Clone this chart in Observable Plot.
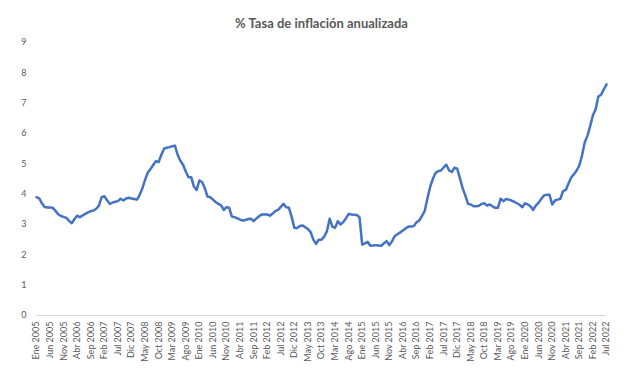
<!DOCTYPE html>
<html><head><meta charset="utf-8">
<script src="https://cdn.jsdelivr.net/npm/d3@7"></script>
<script src="https://cdn.jsdelivr.net/npm/@observablehq/plot@0.6"></script>
<style>body{margin:0;background:#fff}</style>
</head><body><div id="chart"></div>
<script>
const titulo = "% Tasa de inflación anualizada";
const meses = ["Ene","Feb","Mar","Abr","May","Jun","Jul","Ago","Sep","Oct","Nov","Dic"];
const anioInicio = 2005;
const pasoEtiquetas = 5;
const yTicks = [0,1,2,3,4,5,6,7,8,9];

// Monthly annualized inflation (%), Ene 2005 – Jul 2022
const inflacion = [
  // 2005
  3.90,3.86,3.70,3.58,3.56,3.56,3.55,3.45,3.34,3.28,3.25,3.22,
  // 2006
  3.12,3.04,3.18,3.29,3.24,3.30,3.35,3.40,3.44,3.46,3.52,3.62,
  // 2007
  3.90,3.93,3.80,3.68,3.72,3.75,3.77,3.85,3.79,3.86,3.88,3.86,
  // 2008
  3.84,3.82,3.97,4.19,4.47,4.71,4.83,4.96,5.09,5.06,5.30,5.50,
  // 2009
  5.53,5.55,5.58,5.60,5.30,5.10,4.97,4.75,4.56,4.56,4.25,4.14,
  // 2010
  4.45,4.40,4.20,3.92,3.90,3.82,3.74,3.68,3.63,3.48,3.57,3.55,
  // 2011
  3.26,3.24,3.20,3.16,3.13,3.15,3.18,3.19,3.11,3.20,3.27,3.33,
  // 2012
  3.33,3.33,3.29,3.36,3.44,3.48,3.58,3.68,3.57,3.55,3.25,2.89,
  // 2013
  2.88,2.95,2.97,2.91,2.85,2.75,2.50,2.36,2.50,2.50,2.60,2.78,
  // 2014
  3.19,2.93,2.89,3.11,3.00,3.08,3.20,3.35,3.33,3.32,3.31,3.24,
  // 2015
  2.34,2.38,2.43,2.30,2.31,2.32,2.31,2.30,2.38,2.45,2.32,2.45,
  // 2016
  2.62,2.68,2.74,2.80,2.87,2.93,2.93,2.95,3.07,3.13,3.28,3.44,
  // 2017
  3.85,4.23,4.50,4.70,4.76,4.78,4.88,4.97,4.78,4.73,4.87,4.84,
  // 2018
  4.52,4.20,3.95,3.68,3.66,3.60,3.60,3.62,3.68,3.70,3.62,3.66,
  // 2019
  3.60,3.55,3.55,3.85,3.77,3.84,3.82,3.79,3.75,3.70,3.65,3.57,
  // 2020
  3.70,3.66,3.60,3.48,3.63,3.72,3.85,3.96,3.98,3.98,3.66,3.79,
  // 2021
  3.82,3.85,4.10,4.14,4.35,4.55,4.66,4.78,4.95,5.28,5.71,5.93,
  // 2022
  6.25,6.60,6.80,7.22,7.28,7.45,7.62
];

const datos = inflacion.map((v, i) => ({i, v}));
const xTicks = d3.range(0, inflacion.length, pasoEtiquetas);
const etiqueta = i => `${meses[i % 12]} ${anioInicio + Math.floor(i / 12)}`;

const chart = Plot.plot({
  width: 634,
  height: 375,
  marginTop: 42,
  marginBottom: 60,
  marginLeft: 36,
  marginRight: 28,
  style: {fontFamily: "Lato, sans-serif", fontSize: "9px", color: "#595959", background: "#fff"},
  x: {domain: [0, inflacion.length - 1], ticks: xTicks, tickFormat: etiqueta, tickRotate: -90, tickSize: 0, tickPadding: 6, label: null},
  y: {domain: [0, 9], ticks: yTicks, tickSize: 0, tickPadding: 10, label: null},
  marks: [
    Plot.ruleY([0], {stroke: "#d9d9d9", strokeWidth: 1}),
    Plot.lineY(datos, {x: "i", y: "v", stroke: "#4472C4", strokeWidth: 2.5, strokeLinejoin: "round"}),
    Plot.text([titulo], {text: d => d, frameAnchor: "top", lineAnchor: "middle", dy: -19, fontSize: 13, fontWeight: "bold", fill: "#595959"})
  ]
});
document.getElementById("chart").appendChild(chart);
</script>
</body></html>
